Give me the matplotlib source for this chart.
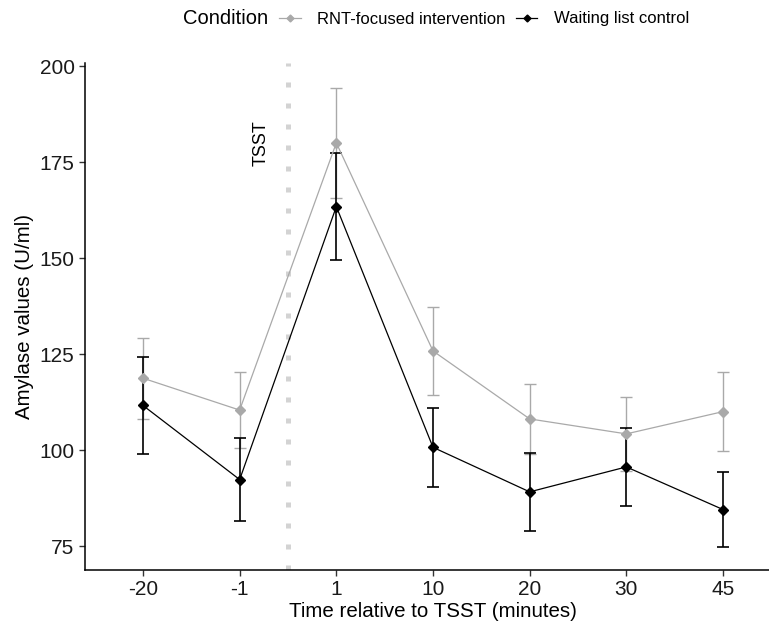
import numpy as np
import matplotlib
matplotlib.use("Agg")
import matplotlib.pyplot as plt
from matplotlib.lines import Line2D

plt.rcParams["font.family"] = ["Liberation Sans", "DejaVu Sans"]

times = ["-20", "-1", "1", "10", "20", "30", "45"]
rnt_mean = [118.7, 110.4, 180.0, 125.8, 108.1, 104.2, 110.0]
rnt_se = [10.5, 10.0, 14.4, 11.5, 9.1, 9.7, 10.3]
wl_mean = [111.6, 92.3, 163.4, 100.7, 89.1, 95.6, 84.5]
wl_se = [12.7, 10.7, 13.9, 10.3, 10.2, 10.1, 9.7]

GRAY, BLACK = "#a9a9a9", "#000000"

fig = plt.figure(figsize=(7.69, 6.31), dpi=100)
# panel runs a little past the right edge (the original image is cropped there)
ax = fig.add_axes([85 / 769, 61 / 631, (781 - 85) / 769, (570 - 63) / 631])

x = np.arange(1, len(times) + 1)

# TSST marker line
ax.axvline(2.5, color="#d3d3d3", lw=3.6, ls=(0, (1.0, 3.2)), zorder=1)
ax.text(2.22, 180, "TSST", rotation=90, ha="center", va="center", fontsize=13)

for m, se, c, lw in [(rnt_mean, rnt_se, GRAY, 1.0), (wl_mean, wl_se, BLACK, 1.2)]:
    ax.errorbar(x, m, yerr=se, fmt="none", ecolor=c, elinewidth=lw, capsize=4,
                capthick=lw, zorder=2)
    ax.plot(x, m, color=c, lw=0.9, marker="D", ms=5.5, mec=c, mfc=c, zorder=3)

ax.set_xlim(0.4, 7.6)
ax.set_ylim(68.75, 200.8)
ax.set_xticks(x)
ax.set_xticklabels(times)
ax.set_yticks([75, 100, 125, 150, 175, 200])
ax.tick_params(labelsize=15, length=4, width=1, color="#333333", labelcolor="#1a1a1a")
for s in ("top", "right"):
    ax.spines[s].set_visible(False)
for s in ("left", "bottom"):
    ax.spines[s].set_linewidth(1.1)
ax.set_xlabel("Time relative to TSST (minutes)", fontsize=14.8, labelpad=2)
ax.set_ylabel("Amylase values (U/ml)", fontsize=14.8, labelpad=4)

# legend at top
fig.text(183 / 769, 1 - 19 / 631, "Condition", fontsize=14.5, va="center", ha="left")
handles = [
    Line2D([], [], color=GRAY, lw=0.9, marker="D", ms=3.5, mfc=GRAY, mec=GRAY),
    Line2D([], [], color=BLACK, lw=0.9, marker="D", ms=3.5, mfc=BLACK, mec=BLACK),
]
fig.legend(handles, ["RNT-focused intervention", "Waiting list control"],
           loc="center left", bbox_to_anchor=(279 / 769, 1 - 19 / 631), ncol=2,
           frameon=False, fontsize=12, handlelength=1.3, handletextpad=1.0,
           columnspacing=0.6, borderaxespad=0, borderpad=0)

fig.savefig("out.png", dpi=100)
